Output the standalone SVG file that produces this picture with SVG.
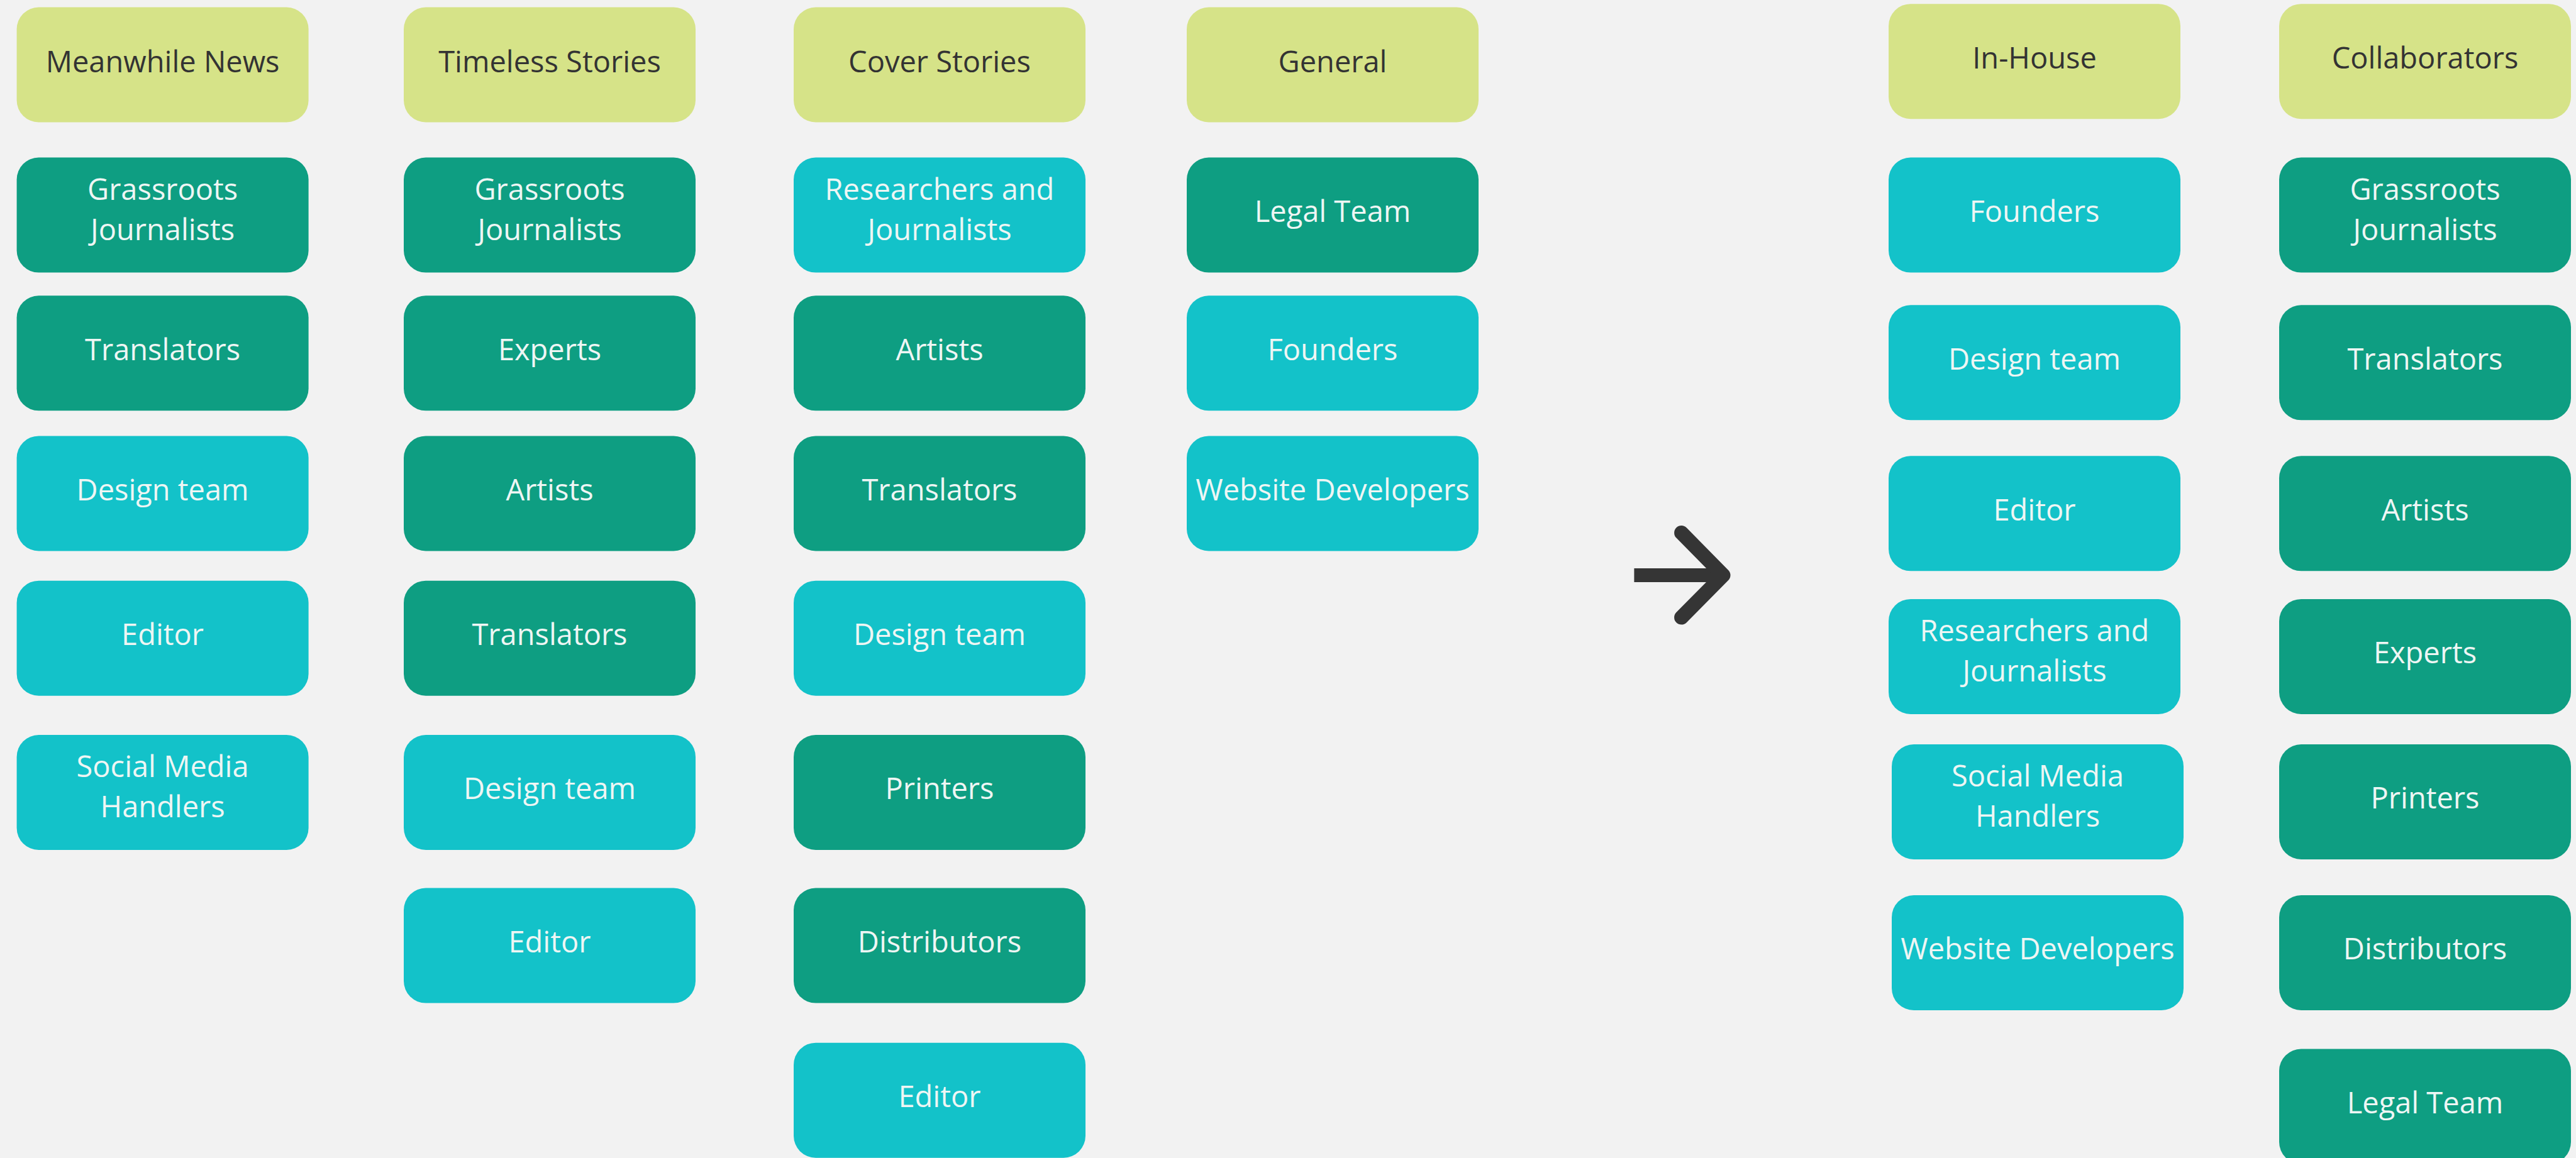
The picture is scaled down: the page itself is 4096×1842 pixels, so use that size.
<svg xmlns="http://www.w3.org/2000/svg" width="4096" height="1842" viewBox="0 0 4096 1842">
<style>
.n rect{rx:35px;ry:35px}
.lime{fill:#d6e388}
.dark{fill:#0e9e82}
.cyan{fill:#13c2c9}
text{font-family:"Open Sans","Noto Sans","Liberation Sans",sans-serif;font-size:47px;text-anchor:middle}
.hd{fill:#333333}
.lb{fill:#eef6f4}
</style>
<rect x="0" y="0" width="4096" height="1842" fill="#f2f2f2"/>
<!-- Column 1 -->
<g id="c1-head" class="n"><rect class="lime" x="26.6" y="11.5" width="464" height="183"/><text class="hd" x="258.6" y="115">Meanwhile News</text></g>
<g id="c1-grassroots" class="n"><rect class="dark" x="26.6" y="250.6" width="464" height="183"/><text class="lb" x="258.6" y="318">Grassroots</text><text class="lb" x="258.6" y="382">Journalists</text></g>
<g id="c1-translators" class="n"><rect class="dark" x="26.6" y="470.3" width="464" height="183"/><text class="lb" x="258.6" y="573">Translators</text></g>
<g id="c1-design" class="n"><rect class="cyan" x="26.6" y="693.4" width="464" height="183"/><text class="lb" x="258.6" y="796">Design team</text></g>
<g id="c1-editor" class="n"><rect class="cyan" x="26.6" y="923.7" width="464" height="183"/><text class="lb" x="258.6" y="1026">Editor</text></g>
<g id="c1-social" class="n"><rect class="cyan" x="26.6" y="1169" width="464" height="183"/><text class="lb" x="258.6" y="1236">Social Media</text><text class="lb" x="258.6" y="1300">Handlers</text></g>
<!-- Column 2 -->
<g id="c2-head" class="n"><rect class="lime" x="642" y="11.5" width="464" height="183"/><text class="hd" x="874" y="115">Timeless Stories</text></g>
<g id="c2-grassroots" class="n"><rect class="dark" x="642" y="250.6" width="464" height="183"/><text class="lb" x="874" y="318">Grassroots</text><text class="lb" x="874" y="382">Journalists</text></g>
<g id="c2-experts" class="n"><rect class="dark" x="642" y="470.3" width="464" height="183"/><text class="lb" x="874" y="573">Experts</text></g>
<g id="c2-artists" class="n"><rect class="dark" x="642" y="693.4" width="464" height="183"/><text class="lb" x="874" y="796">Artists</text></g>
<g id="c2-translators" class="n"><rect class="dark" x="642" y="923.7" width="464" height="183"/><text class="lb" x="874" y="1026">Translators</text></g>
<g id="c2-design" class="n"><rect class="cyan" x="642" y="1169" width="464" height="183"/><text class="lb" x="874" y="1271">Design team</text></g>
<g id="c2-editor" class="n"><rect class="cyan" x="642" y="1412.6" width="464" height="183"/><text class="lb" x="874" y="1515">Editor</text></g>
<!-- Column 3 -->
<g id="c3-head" class="n"><rect class="lime" x="1262" y="11.5" width="464" height="183"/><text class="hd" x="1494" y="115">Cover Stories</text></g>
<g id="c3-researchers" class="n"><rect class="cyan" x="1262" y="250.6" width="464" height="183"/><text class="lb" x="1494" y="318">Researchers and</text><text class="lb" x="1494" y="382">Journalists</text></g>
<g id="c3-artists" class="n"><rect class="dark" x="1262" y="470.3" width="464" height="183"/><text class="lb" x="1494" y="573">Artists</text></g>
<g id="c3-translators" class="n"><rect class="dark" x="1262" y="693.4" width="464" height="183"/><text class="lb" x="1494" y="796">Translators</text></g>
<g id="c3-design" class="n"><rect class="cyan" x="1262" y="923.7" width="464" height="183"/><text class="lb" x="1494" y="1026">Design team</text></g>
<g id="c3-printers" class="n"><rect class="dark" x="1262" y="1169" width="464" height="183"/><text class="lb" x="1494" y="1271">Printers</text></g>
<g id="c3-distributors" class="n"><rect class="dark" x="1262" y="1412.6" width="464" height="183"/><text class="lb" x="1494" y="1515">Distributors</text></g>
<g id="c3-editor" class="n"><rect class="cyan" x="1262" y="1658.7" width="464" height="183"/><text class="lb" x="1494" y="1761">Editor</text></g>
<!-- Column 4 -->
<g id="c4-head" class="n"><rect class="lime" x="1887" y="11.5" width="464" height="183"/><text class="hd" x="2119" y="115">General</text></g>
<g id="c4-legal" class="n"><rect class="dark" x="1887" y="250.6" width="464" height="183"/><text class="lb" x="2119" y="353">Legal Team</text></g>
<g id="c4-founders" class="n"><rect class="cyan" x="1887" y="470.3" width="464" height="183"/><text class="lb" x="2119" y="573">Founders</text></g>
<g id="c4-web" class="n"><rect class="cyan" x="1887" y="693.4" width="464" height="183"/><text class="lb" x="2119" y="796">Website Developers</text></g>
<!-- Column 5 -->
<g id="c5-head" class="n"><rect class="lime" x="3003" y="6.2" width="464" height="183"/><text class="hd" x="3235" y="109">In-House</text></g>
<g id="c5-founders" class="n"><rect class="cyan" x="3003" y="250.6" width="464" height="183"/><text class="lb" x="3235" y="353">Founders</text></g>
<g id="c5-design" class="n"><rect class="cyan" x="3003" y="485.3" width="464" height="183"/><text class="lb" x="3235" y="588">Design team</text></g>
<g id="c5-editor" class="n"><rect class="cyan" x="3003" y="725.3" width="464" height="183"/><text class="lb" x="3235" y="828">Editor</text></g>
<g id="c5-researchers" class="n"><rect class="cyan" x="3003" y="952.9" width="464" height="183"/><text class="lb" x="3235" y="1020">Researchers and</text><text class="lb" x="3235" y="1084">Journalists</text></g>
<g id="c5-social" class="n"><rect class="cyan" x="3008" y="1184" width="464" height="183"/><text class="lb" x="3240" y="1251">Social Media</text><text class="lb" x="3240" y="1315">Handlers</text></g>
<g id="c5-web" class="n"><rect class="cyan" x="3008" y="1424" width="464" height="183"/><text class="lb" x="3240" y="1526">Website Developers</text></g>
<!-- Column 6 -->
<g id="c6-head" class="n"><rect class="lime" x="3624" y="6.2" width="464" height="183"/><text class="hd" x="3856" y="109">Collaborators</text></g>
<g id="c6-grassroots" class="n"><rect class="dark" x="3624" y="250.6" width="464" height="183"/><text class="lb" x="3856" y="318">Grassroots</text><text class="lb" x="3856" y="382">Journalists</text></g>
<g id="c6-translators" class="n"><rect class="dark" x="3624" y="485.3" width="464" height="183"/><text class="lb" x="3856" y="588">Translators</text></g>
<g id="c6-artists" class="n"><rect class="dark" x="3624" y="725.3" width="464" height="183"/><text class="lb" x="3856" y="828">Artists</text></g>
<g id="c6-experts" class="n"><rect class="dark" x="3624" y="952.9" width="464" height="183"/><text class="lb" x="3856" y="1055">Experts</text></g>
<g id="c6-printers" class="n"><rect class="dark" x="3624" y="1184" width="464" height="183"/><text class="lb" x="3856" y="1286">Printers</text></g>
<g id="c6-distributors" class="n"><rect class="dark" x="3624" y="1424" width="464" height="183"/><text class="lb" x="3856" y="1526">Distributors</text></g>
<g id="c6-legal" class="n"><rect class="dark" x="3624" y="1668.5" width="464" height="183"/><text class="lb" x="3856" y="1771">Legal Team</text></g>
<!-- Connector -->
<g id="connectors" fill="none" stroke="#353535">
<line x1="2598.4" y1="915" x2="2735" y2="915" stroke-width="22"/>
<polyline points="2673.6,847.5 2740,915 2673.6,982.1" stroke-width="23" stroke-linecap="round" stroke-linejoin="round"/>
</g>
</svg>
